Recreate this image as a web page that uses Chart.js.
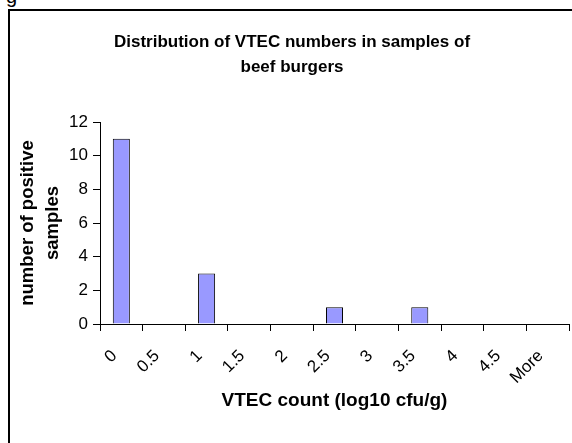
<!DOCTYPE html>
<html>
<head>
<meta charset="utf-8">
<script src="https://cdn.jsdelivr.net/npm/chart.js@4.4.0/dist/chart.umd.min.js"></script>
<style>
    body { margin: 0; overflow: hidden; background: #fff; font-family: "Liberation Sans", Arial, sans-serif; }
    #frame { position: absolute; left: 8px; top: 9px; width: 600px; height: 500px;
             border-left: 2px solid #000; border-top: 2px solid #000; }
    #cut { position: absolute; left: 6px; top: -15px; font-size: 20px; }
    canvas { position: absolute; left: 0; top: 0; }
</style>
</head>
<body>
<div id="cut">g</div>
<div id="frame"></div>
<canvas id="histogram" width="572" height="443"></canvas>
<script>
// Histogram of VTEC counts in beef burger samples

const binLabels = ['0', '0.5', '1', '1.5', '2', '2.5', '3', '3.5', '4', '4.5', 'More'];
const positiveSamples = [11, 0, 3, 0, 0, 1, 0, 1, 0, 0, 0];
const titleLines = ['Distribution of VTEC numbers in samples of', 'beef burgers'];
const yTitleLines = ['number of positive', 'samples'];
const xTitle = 'VTEC count (log10 cfu/g)';

Chart.defaults.font.family = '"Liberation Sans", Arial, sans-serif';
Chart.defaults.color = '#000';

const ctx = document.getElementById('histogram').getContext('2d');
new Chart(ctx, {
    type: 'bar',
    data: {
        labels: binLabels,
        datasets: [{
            label: 'positive samples',
            data: positiveSamples,
            backgroundColor: '#9999ff',
            borderColor: '#000',
            borderWidth: 1,
            barPercentage: 0.4,
            categoryPercentage: 1
        }]
    },
    options: {
        responsive: false,
        devicePixelRatio: 1,
        animation: false,
        layout: { padding: { left: 15, right: 3, top: 0, bottom: 0 } },
        plugins: {
            legend: { display: false },
            tooltip: { enabled: false },
            title: {
                display: true,
                text: titleLines,
                font: { size: 17, weight: 'bold', lineHeight: '25px' },
                padding: { top: 29.5, bottom: 42.5 }
            }
        },
        scales: {
            x: {
                afterFit: scale => {
                    scale.height = 119;
                    scale.paddingLeft = 0;
                    scale.paddingRight = 0;
                },
                border: { color: '#000', width: 1 },
                grid: { offset: true, drawOnChartArea: false, color: '#000', tickLength: 7 },
                ticks: { font: { size: 17 }, minRotation: 45, maxRotation: 45, padding: 15, labelOffset: -7 },
                title: {
                    display: true,
                    text: xTitle,
                    font: { size: 19, weight: 'bold' },
                    padding: { top: 0, bottom: 31 }
                }
            },
            y: {
                min: 0,
                max: 12,
                afterFit: scale => { scale.width = 85; },
                border: { color: '#000', width: 1 },
                grid: { drawOnChartArea: false, color: '#000', tickLength: 7 },
                ticks: { stepSize: 2, font: { size: 17 }, padding: 5 },
                title: {
                    display: true,
                    text: yTitleLines,
                    font: { size: 18.5, weight: 'bold', lineHeight: '25px' },
                    padding: { top: 0, bottom: 0 }
                }
            }
        }
    }
});
</script>
</body>
</html>
